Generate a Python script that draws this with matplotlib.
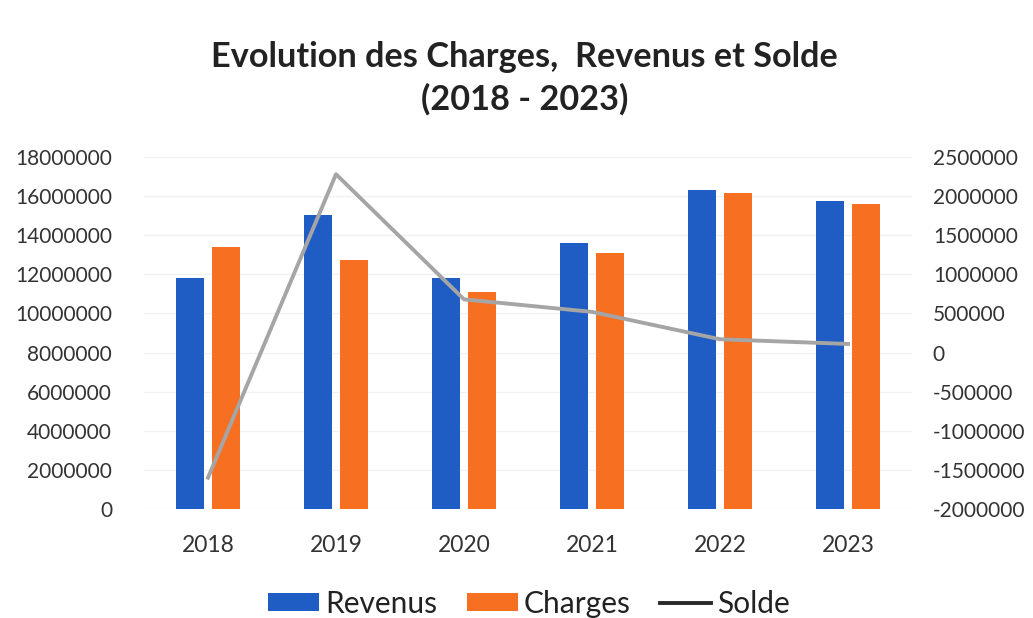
import matplotlib
matplotlib.use("Agg")
import matplotlib.pyplot as plt
import numpy as np
from matplotlib.lines import Line2D
from matplotlib.patches import Patch

years = ["2018", "2019", "2020", "2021", "2022", "2023"]
revenus = [11830000, 15020000, 11790000, 13610000, 16310000, 15750000]
charges = [13380000, 12730000, 11080000, 13070000, 16140000, 15580000]
solde = [-1600000, 2280000, 680000, 520000, 170000, 110000]

left_ticks = list(range(0, 18000001, 2000000))
right_ticks = list(range(-2000000, 2500001, 500000))

plt.rcParams['font.family'] = ['Lato', 'DejaVu Sans']

fig = plt.figure(figsize=(10.33, 6.18), dpi=100)
ax = fig.add_axes([144/1033, 109/618, 768/1033, 352/618])
ax2 = ax.twinx()

x = np.arange(len(years))
w = 0.219
off = 0.14
blue = '#1f5cc4'
orange = '#f76f20'
ax.bar(x - off, revenus, w, color=blue, zorder=2)
ax.bar(x + off, charges, w, color=orange, zorder=2)
ax.set_xlim(-0.5, len(years) - 0.5)
ax.set_ylim(0, 18000000)
ax.set_yticks(left_ticks)
ax.set_yticklabels([str(v) for v in left_ticks], fontsize=15, color='#333333')
ax.set_xticks(x)
ax.set_xticklabels(years, fontsize=16.5, color='#333333')
ax.tick_params(axis='both', length=0)
ax.tick_params(axis='y', pad=23)
ax.tick_params(axis='x', pad=19)
ax.grid(axis='y', color='#f2f2f2', linewidth=1, zorder=0)
ax.set_axisbelow(True)

ax2.plot(x, solde, color='#a5a5a5', linewidth=2.8, zorder=3)
ax2.set_ylim(-2000000, 2500000)
ax2.set_yticks(right_ticks)
ax2.set_yticklabels([str(v) for v in right_ticks], fontsize=15, color='#333333')
ax2.tick_params(axis='y', length=0, pad=15)

for a in (ax, ax2):
    for s in a.spines.values():
        s.set_visible(False)

fig.text(0.508, 1 - 78/618, "Evolution des Charges,  Revenus et Solde\n(2018 - 2023)",
         ha='center', va='center', fontsize=24.7, fontweight='bold', color='#222222',
         linespacing=1.38)

handles = [Patch(facecolor=blue), Patch(facecolor=orange),
           Line2D([0], [0], color='#2a2a2a', linewidth=2.8)]
fig.legend(handles, ["Revenus", "Charges", "Solde"], loc='center',
           bbox_to_anchor=(529/1033, 1 - 604/618), ncol=3, frameon=False,
           fontsize=21.5, handlelength=1.7, handleheight=0.55, handletextpad=0.2,
           columnspacing=1.0, labelcolor='#222222', borderpad=0)

fig.savefig("out.png", dpi=100, facecolor='white')
